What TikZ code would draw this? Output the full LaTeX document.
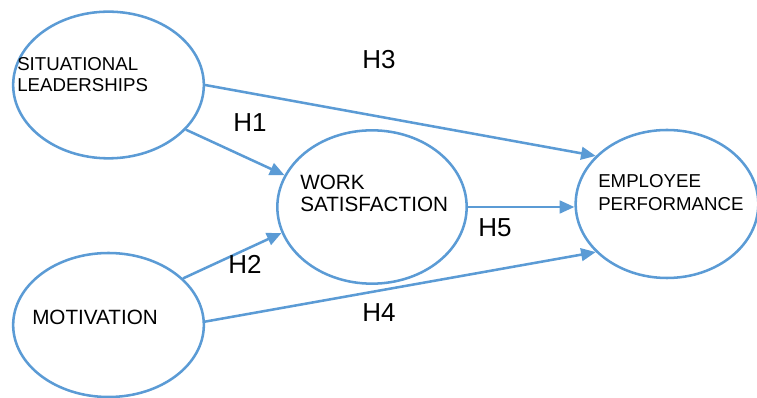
\documentclass[tikz,border=0pt]{standalone}
\usepackage{fontspec}
\setmainfont{Liberation Sans}
\usetikzlibrary{shapes.geometric,arrows.meta}

\definecolor{lineblue}{HTML}{5B9BD5}

\tikzset{
  construct/.style={ellipse, draw=lineblue, line width=1.9pt, inner sep=0pt},
  caption/.style={anchor=north west, inner sep=0pt, align=left},
  hyp/.style={anchor=north west, inner sep=0pt, font=\fontsize{19.5}{22}\selectfont},
  path/.style={draw=lineblue, line width=1.9pt, -{Triangle[length=11pt,width=9.5pt]}}
}

\begin{document}
\begin{tikzpicture}[x=0.75pt,y=-0.75pt]

% Page size of the figure
\useasboundingbox (0,0) rectangle (757,398);

% The four constructs
\node[construct, minimum width=143pt, minimum height=110pt] (sl) at (108.5,85) {};
\node[construct, minimum width=143pt, minimum height=108pt] (mot) at (108.5,325) {};
\node[construct, minimum width=142pt, minimum height=115pt] (ws) at (372,207) {};
\node[construct, minimum width=137pt, minimum height=111pt] (ep) at (667,204) {};

% Their names
\node[caption, font=\fontsize{14}{15.75}\selectfont] (sl-txt) at (17,57) {SITUATIONAL\\LEADERSHIPS};
\node[caption, font=\fontsize{15.5}{18}\selectfont] (mot-txt) at (32,310) {MOTIVATION};
\node[caption, font=\fontsize{15.5}{16.5}\selectfont] (ws-txt) at (300,175) {WORK\\SATISFACTION};
\node[caption, font=\fontsize{14}{17.25}\selectfont] (ep-txt) at (598,174) {EMPLOYEE\\PERFORMANCE};

% Hypothesised paths
\draw[path] (sl.-30.5) -- (ws.160.2);
\draw[path] (mot.32.2) -- (ws.196.3);
\draw[path] (sl.0) -- (ep.146.7);
\draw[path] (mot.2) -- (ep.214.8);
\draw[path] (ws.east) -- (ws.east -| ep.west);

% Hypothesis labels
\node[hyp] (h1) at (233,113) {H1};
\node[hyp] (h2) at (228,255) {H2};
\node[hyp] (h3) at (362,50) {H3};
\node[hyp] (h4) at (362,303) {H4};
\node[hyp] (h5) at (478,218) {H5};

\end{tikzpicture}
\end{document}
